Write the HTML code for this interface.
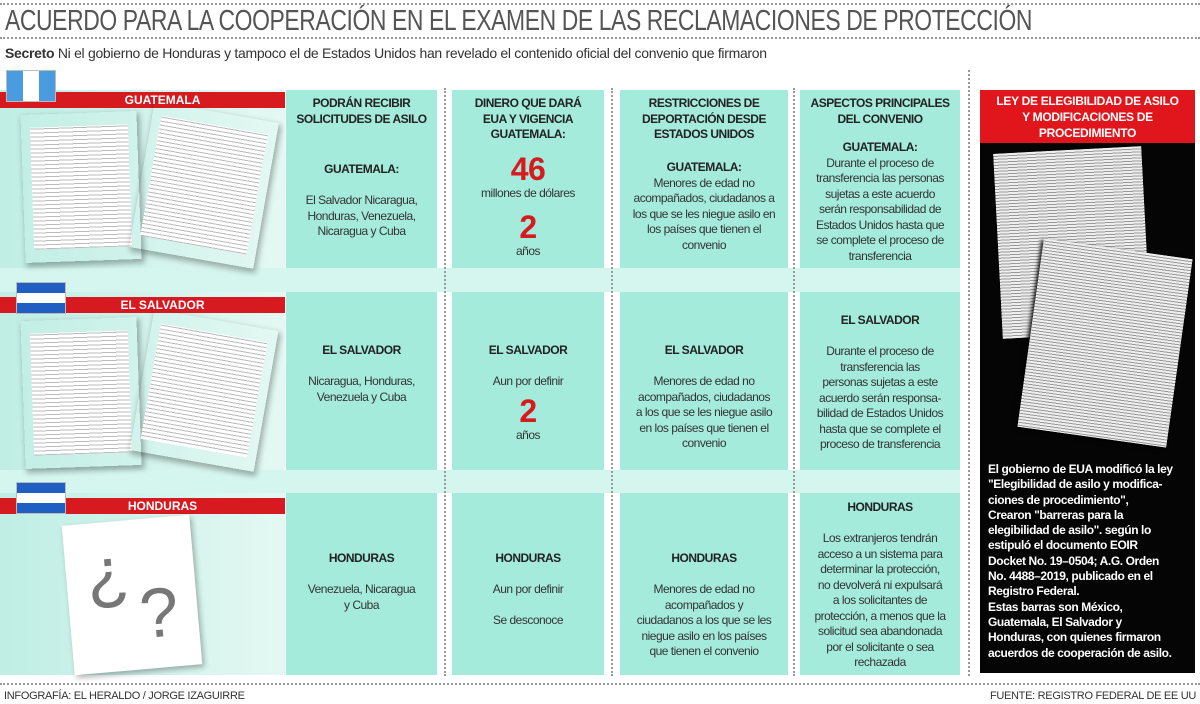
<!DOCTYPE html>
<html><head><meta charset="utf-8">
<style>
*{box-sizing:border-box;margin:0;padding:0}
body{width:1200px;height:704px;background:#fff;position:relative;overflow:hidden;font-family:"Liberation Sans",sans-serif;color:#222}
.a{position:absolute}
.dot{border-top:2px dotted #999}
.vd{border-left:2px dotted #999}
.col{position:absolute;background:#a4ebdc}
.band{position:absolute;background:#d5f6ef}
.txt{position:absolute;text-align:center;font-size:12px;line-height:15.5px;letter-spacing:-0.5px;color:#333}
.h{font-weight:bold;color:#222}
.big{color:#d71920;font-weight:bold;font-size:32px;line-height:34px}
.cb{position:absolute;left:0;width:285px;height:16px;background:#d71920;color:#fff;font-weight:bold;font-size:12px;text-align:center;line-height:16px;padding-left:40px}
.doc{position:absolute;background:#fff;box-shadow:2px 3px 6px rgba(0,0,0,.3);background-image:repeating-linear-gradient(#fff 0 3px,#bbb 3px 4px);background-clip:content-box;padding:14px 10px;background-color:#fff}
.flag{position:absolute;width:50px;height:32px;border:1px solid #bbb}
</style></head><body>
<div class="a dot" style="left:0;top:3px;width:1200px"></div>
<div class="a" style="left:5px;top:5px;font-size:29px;line-height:32px;color:#555;letter-spacing:-0.5px;white-space:nowrap;transform:scaleX(0.79);transform-origin:left">ACUERDO PARA LA COOPERACIÓN EN EL EXAMEN DE LAS RECLAMACIONES DE PROTECCIÓN</div>
<div class="a dot" style="left:0;top:37px;width:1200px"></div>
<div class="a" style="left:5px;top:44px;font-size:14px;line-height:18px;color:#333;letter-spacing:-0.3px;white-space:nowrap"><b>Secreto</b> Ni el gobierno de Honduras y tampoco el de Estados Unidos han revelado el contenido oficial del convenio que firmaron</div>

<div class="a" style="left:0;top:90px;width:285px;height:585px;background:linear-gradient(90deg,#bfeee4,#e4f8f3)"></div>
<div class="band" style="left:0;top:268px;width:960px;height:24px"></div>
<div class="band" style="left:0;top:470px;width:960px;height:23px"></div>

<div class="col" style="left:286px;top:90px;width:151px;height:178px"></div>
<div class="col" style="left:452px;top:90px;width:152px;height:178px"></div>
<div class="col" style="left:620px;top:90px;width:168px;height:178px"></div>
<div class="col" style="left:800px;top:90px;width:160px;height:178px"></div>
<div class="col" style="left:286px;top:292px;width:151px;height:178px"></div>
<div class="col" style="left:452px;top:292px;width:152px;height:178px"></div>
<div class="col" style="left:620px;top:292px;width:168px;height:178px"></div>
<div class="col" style="left:800px;top:292px;width:160px;height:178px"></div>
<div class="col" style="left:286px;top:493px;width:151px;height:182px"></div>
<div class="col" style="left:452px;top:493px;width:152px;height:182px"></div>
<div class="col" style="left:620px;top:493px;width:168px;height:182px"></div>
<div class="col" style="left:800px;top:493px;width:160px;height:182px"></div>

<div class="a vd" style="left:444px;top:88px;height:588px"></div>
<div class="a vd" style="left:611px;top:88px;height:588px"></div>
<div class="a vd" style="left:793px;top:88px;height:588px"></div>
<div class="a vd" style="left:968px;top:70px;height:606px"></div>

<div class="cb" style="top:92px">GUATEMALA</div>
<div class="flag" style="left:6px;top:70px;background:linear-gradient(90deg,#4a9be0 33%,#fff 33% 67%,#4a9be0 67%)"></div>
<div class="doc" style="left:22px;top:112px;width:118px;height:150px;transform:rotate(-2deg)"></div>
<div class="doc" style="left:140px;top:110px;width:128px;height:150px;transform:rotate(10deg)"></div>

<div class="cb" style="top:297px">EL SALVADOR</div>
<div class="flag" style="left:16px;top:282px;background:linear-gradient(#1f5fc4 33%,#fff 33% 67%,#1f5fc4 67%)"></div>
<div class="doc" style="left:22px;top:318px;width:118px;height:150px;transform:rotate(-2deg)"></div>
<div class="doc" style="left:140px;top:318px;width:128px;height:145px;transform:rotate(10deg)"></div>

<div class="cb" style="top:498px">HONDURAS</div>
<div class="flag" style="left:16px;top:482px;background:linear-gradient(#1f5fc4 33%,#fff 33% 67%,#1f5fc4 67%)"></div>
<div class="a" style="left:68px;top:520px;width:128px;height:150px;background:#fff;box-shadow:2px 3px 6px rgba(0,0,0,.3);transform:rotate(-5deg)">
<span style="position:absolute;left:20px;top:10px;font-size:70px;color:#777">¿</span><span style="position:absolute;left:70px;top:55px;font-size:70px;color:#777">?</span></div>

<div class="txt h" style="left:286px;top:96px;width:151px">PODRÁN RECIBIR<br>SOLICITUDES DE ASILO</div>
<div class="txt" style="left:286px;top:162px;width:151px"><span class="h">GUATEMALA:</span><br><br>El Salvador Nicaragua,<br>Honduras, Venezuela,<br>Nicaragua y Cuba</div>
<div class="txt h" style="left:452px;top:96px;width:152px">DINERO QUE DARÁ<br>EUA Y VIGENCIA<br>GUATEMALA:</div>
<div class="txt" style="left:452px;top:152px;width:152px"><div class="big">46</div>millones de dólares<div class="big" style="margin-top:8px">2</div>años</div>
<div class="txt h" style="left:620px;top:96px;width:168px">RESTRICCIONES DE<br>DEPORTACIÓN DESDE<br>ESTADOS UNIDOS</div>
<div class="txt" style="left:620px;top:160px;width:168px"><span class="h">GUATEMALA:</span><br>Menores de edad no<br>acompañados, ciudadanos a<br>los que se les niegue asilo en<br>los países que tienen el<br>convenio</div>
<div class="txt h" style="left:800px;top:96px;width:160px">ASPECTOS PRINCIPALES<br>DEL CONVENIO</div>
<div class="txt" style="left:800px;top:140px;width:160px"><span class="h">GUATEMALA:</span><br>Durante el proceso de<br>transferencia las personas<br>sujetas a este acuerdo<br>serán responsabilidad de<br>Estados Unidos hasta que<br>se complete el proceso de<br>transferencia</div>

<div class="txt" style="left:286px;top:343px;width:151px"><span class="h">EL SALVADOR</span><br><br>Nicaragua, Honduras,<br>Venezuela y Cuba</div>
<div class="txt" style="left:452px;top:343px;width:152px"><span class="h">EL SALVADOR</span><br><br>Aun por definir<div class="big" style="margin-top:4px">2</div>años</div>
<div class="txt" style="left:620px;top:343px;width:168px"><span class="h">EL SALVADOR</span><br><br>Menores de edad no<br>acompañados, ciudadanos<br>a los que se les niegue asilo<br>en los países que tienen el<br>convenio</div>
<div class="txt" style="left:800px;top:313px;width:160px"><span class="h">EL SALVADOR</span><br><br>Durante el proceso de<br>transferencia las<br>personas sujetas a este<br>acuerdo serán responsa-<br>bilidad de Estados Unidos<br>hasta que se complete el<br>proceso de transferencia</div>

<div class="txt" style="left:286px;top:551px;width:151px"><span class="h">HONDURAS</span><br><br>Venezuela, Nicaragua<br>y Cuba</div>
<div class="txt" style="left:452px;top:551px;width:152px"><span class="h">HONDURAS</span><br><br>Aun por definir<br><br>Se desconoce</div>
<div class="txt" style="left:620px;top:551px;width:168px"><span class="h">HONDURAS</span><br><br>Menores de edad no<br>acompañados y<br>ciudadanos a los que se les<br>niegue asilo en los países<br>que tienen el convenio</div>
<div class="txt" style="left:800px;top:500px;width:160px"><span class="h">HONDURAS</span><br><br>Los extranjeros tendrán<br>acceso a un sistema para<br>determinar la protección,<br>no devolverá ni expulsará<br>a los solicitantes de<br>protección, a menos que la<br>solicitud sea abandonada<br>por el solicitante o sea<br>rechazada</div>

<div class="a" style="left:980px;top:90px;width:215px;height:583px;background:#050505"></div>
<div class="a" style="left:980px;top:90px;width:215px;height:53px;background:#e0161c;color:#fff;font-weight:bold;font-size:12px;line-height:16px;text-align:center;padding-top:3px;letter-spacing:-0.3px">LEY DE ELEGIBILIDAD DE ASILO<br>Y MODIFICACIONES DE<br>PROCEDIMIENTO</div>
<div class="a" style="left:998px;top:150px;width:148px;height:185px;background:#eee;background-image:repeating-linear-gradient(#eee 0 2px,#999 2px 3px);transform:rotate(-3deg)"></div>
<div class="a" style="left:1030px;top:248px;width:150px;height:190px;background:#eee;background-image:repeating-linear-gradient(#eee 0 2px,#999 2px 3px);transform:rotate(8deg);box-shadow:-2px 2px 4px #000"></div>
<div class="a" style="left:988px;top:462px;width:200px;color:#fff;font-weight:bold;font-size:12px;line-height:15.3px;letter-spacing:-0.4px">El gobierno de EUA modificó la ley<br>"Elegibilidad de asilo y modifica-<br>ciones de procedimiento",<br>Crearon "barreras para la<br>elegibilidad de asilo". según lo<br>estipuló el documento EOIR<br>Docket No. 19–0504; A.G. Orden<br>No. 4488–2019, publicado en el<br>Registro Federal.<br>Estas barras son México,<br>Guatemala, El Salvador y<br>Honduras, con quienes firmaron<br>acuerdos de cooperación de asilo.</div>

<div class="a dot" style="left:0;top:683px;width:1200px"></div>
<div class="a" style="left:4px;top:690px;font-size:11px;color:#333;letter-spacing:-0.3px">INFOGRAFÍA: EL HERALDO / JORGE IZAGUIRRE</div>
<div class="a" style="right:4px;top:690px;font-size:11px;color:#333;letter-spacing:-0.3px">FUENTE: REGISTRO FEDERAL DE EE UU</div>
</body></html>
